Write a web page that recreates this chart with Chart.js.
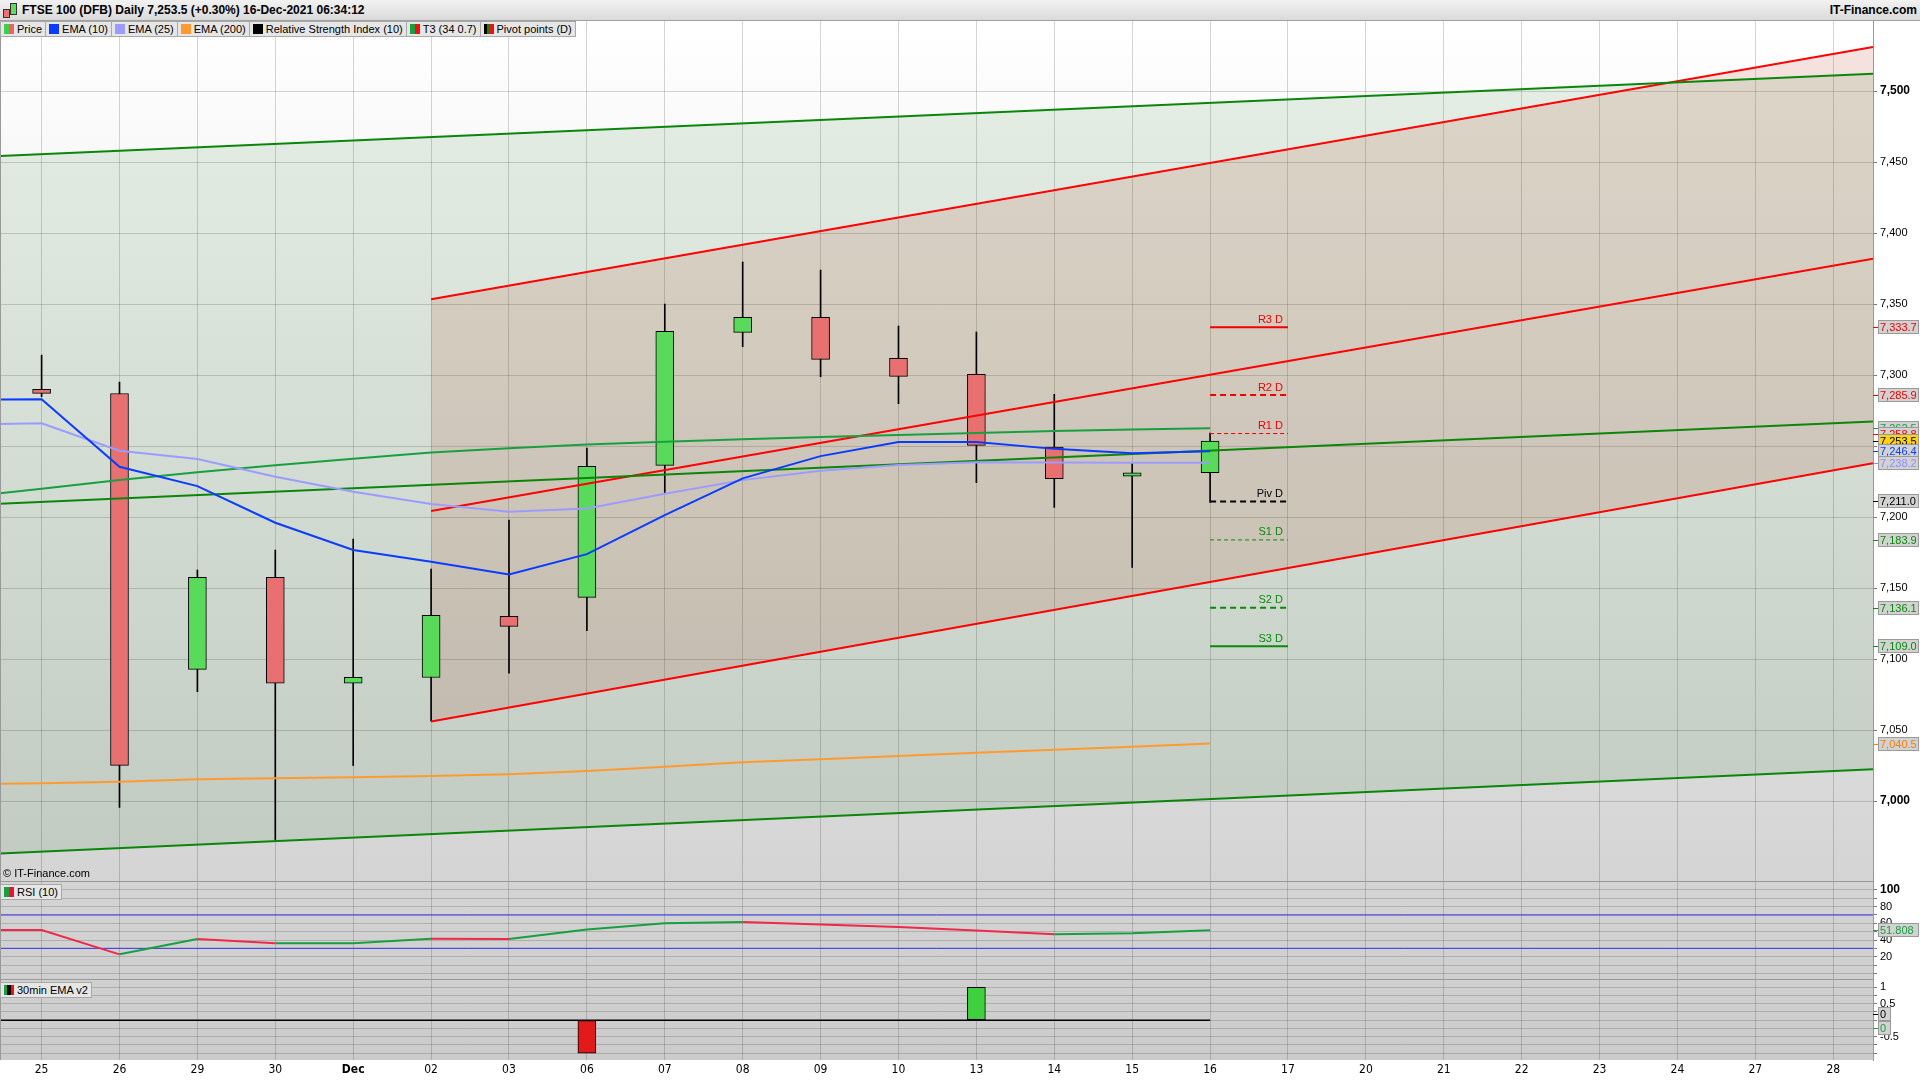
<!DOCTYPE html>
<html>
<head>
<meta charset="utf-8">
<script src="https://cdn.jsdelivr.net/npm/chart.js@4.4.1/dist/chart.umd.min.js"></script>
<style>
  body { margin: 0; width: 1920px; height: 1080px; overflow: hidden; background: #fff; position: relative;
         font-family: "Liberation Sans", Arial, sans-serif; }
  canvas { position: absolute; left: 0; }
  #head { position: absolute; left: 0; top: 0; width: 1920px; height: 20px; background: linear-gradient(#f2f2f2, #dadada);
          border-bottom: 1px solid #a0a0a0; font-size: 12px; font-weight: bold; line-height: 20px; }
  #head .title { position: absolute; left: 22px; top: 0; }
  #head .site { position: absolute; right: 3px; top: 0; }
  .ico { position: absolute; top: 5px; width: 5px; border: 1px solid #333; }
  #legend { position: absolute; left: 0; top: 21px; height: 16px; display: flex; font-size: 11px; }
  .item, .tag { display: flex; align-items: center; background: #e6e6e6; border: 1px solid #a8a8a8; border-left: none;
                padding: 0 3px 0 3px; height: 14px; white-space: nowrap; }
  .sw { display: inline-flex; width: 10px; height: 10px; margin-right: 3px; }
  .sw i { flex: 1; }
  .tag { position: absolute; left: 0; border-left: 1px solid #a8a8a8; font-size: 11px; height: 14px; }
  .hl { position: absolute; left: 0; width: 1873px; height: 1px; background: #999; }
  #copy { position: absolute; left: 3px; top: 867px; font-size: 11px; color: #000; }
</style>
</head>
<body>
<div id="head">
  <div class="ico" style="left:3px;height:7px;top:9px;background:#f07070"></div>
  <div class="ico" style="left:10px;height:10px;top:3px;background:#60dd60"></div>
  <span class="title">FTSE 100 (DFB) Daily 7,253.5 (+0.30%) 16-Dec-2021 06:34:12</span>
  <span class="site">IT-Finance.com</span>
</div>

<canvas id="main" width="1920" height="861" style="top:21px"></canvas>
<canvas id="rsi" width="1920" height="98" style="top:882px"></canvas>
<canvas id="ema" width="1920" height="100" style="top:980px"></canvas>

<div class="hl" style="top:881px"></div>
<div class="hl" style="top:979px"></div>
<div style="position:absolute;left:0;top:21px;width:1px;height:1039px;background:#999"></div>

<div id="legend">
  <div class="item" style="border-left:1px solid #a8a8a8"><span class="sw"><i style="background:#3fcf4f"></i><i style="background:#f06060"></i></span>Price</div>
  <div class="item"><span class="sw"><i style="background:#0a3cff"></i></span>EMA (10)</div>
  <div class="item"><span class="sw"><i style="background:#9c9cff"></i></span>EMA (25)</div>
  <div class="item"><span class="sw"><i style="background:#ff9a30"></i></span>EMA (200)</div>
  <div class="item"><span class="sw"><i style="background:#000"></i></span>Relative Strength Index (10)</div>
  <div class="item"><span class="sw"><i style="background:#18a040"></i><i style="background:#f01010"></i></span>T3 (34 0.7)</div>
  <div class="item"><span class="sw"><i style="background:#000"></i><i style="background:#0a8a0a"></i><i style="background:#f01010"></i></span>Pivot points (D)</div>
</div>
<div id="copy">© IT-Finance.com</div>
<div class="tag" style="top:884px"><span class="sw"><i style="background:#18a040"></i><i style="background:#f01030"></i></span>RSI (10)</div>
<div class="tag" style="top:982px"><span class="sw"><i style="background:#18a040"></i><i style="background:#000"></i><i style="background:#f01010"></i></span>30min EMA v2</div>

<script>
// x categories (trading days), index 0 = 25 Nov
const xLabels = ['25','26','29','30','Dec','02','03','06','07','08','09','10','13','14','15','16','17','20','21','22','23','24','27','28'];

// daily candles
const openP  = [7290.0, 7287.0, 7092.7, 7157.5, 7083.0, 7087.0, 7130.0, 7143.4, 7236.4, 7330.0, 7340.6, 7311.7, 7300.5, 7249.3, 7228.7, 7231.2];
const highP  = [7314.0, 7295.0, 7162.7, 7176.8, 7184.5, 7163.4, 7197.9, 7248.6, 7350.0, 7379.6, 7373.9, 7334.5, 7330.3, 7286.4, 7237.9, 7259.2];
const lowP   = [7284.7, 6995.6, 7077.0, 6972.5, 7025.0, 7056.3, 7090.0, 7120.0, 7217.0, 7320.0, 7298.8, 7279.8, 7224.2, 7206.8, 7164.5, 7210.3];
const closeP = [7287.1, 7025.1, 7157.5, 7083.0, 7087.1, 7130.8, 7123.0, 7235.7, 7330.8, 7340.6, 7311.0, 7299.0, 7250.5, 7227.0, 7231.2, 7253.5];

// indicators (value of previous day shown at the left edge)
const ema10  = [7282.9, 7235.4, 7221.8, 7196.0, 7176.8, 7168.5, 7159.6, 7173.9, 7201.4, 7227.2, 7242.9, 7252.8, 7252.8, 7248.0, 7245.0, 7246.4];
const ema25  = [7266.0, 7246.7, 7240.8, 7228.4, 7217.8, 7209.2, 7203.7, 7206.0, 7216.4, 7226.0, 7232.6, 7236.6, 7238.5, 7238.4, 7238.2, 7238.2];
const ema200 = [7012.6, 7013.6, 7015.3, 7016.0, 7016.7, 7017.6, 7018.8, 7021.1, 7024.2, 7027.3, 7029.5, 7031.7, 7034.0, 7036.2, 7038.3, 7040.5];
const t3     = [7220.0, 7226.0, 7231.5, 7236.5, 7241.0, 7245.5, 7248.5, 7251.0, 7253.0, 7254.8, 7256.4, 7257.8, 7259.2, 7260.5, 7261.6, 7262.5];
const prevVals = { ema10: 7282.5, ema25: 7265.0, ema200: 7011.8, t3: 7214.0, rsi: 52.0 };

// trend channels (start / end points)
const X_MIN = -0.534, X_MAX = 23.51;
const greenX = [X_MIN, X_MAX];
const greenUpper = [7454.3, 7512.1];
const greenMid   = [7209.3, 7267.2];
const greenLower = [6963.0, 7022.4];
const redX = [5, X_MAX];
const redUpper = [7353.4, 7531.0];
const redMid   = [7204.3, 7381.9];
const redLower = [7056.0, 7237.9];

// daily pivot points
const pivotNames  = ['R3 D', 'R2 D', 'R1 D', 'Piv D', 'S1 D', 'S2 D', 'S3 D'];
const pivotValues = [7333.7, 7285.9, 7258.8, 7211.0, 7183.9, 7136.1, 7109.0];

// lower panels
const rsi10 = [52.0, 22.8, 41.2, 36.0, 36.2, 41.4, 41.1, 52.7, 60.0, 61.6, 58.6, 55.6, 51.3, 46.8, 48.2, 51.8];
const rsiLevels = [70, 30];
const emaV2 = [0, 0, 0, 0, 0, 0, 0, -1, 0, 0, 0, 0, 1, 0, 0, 0];

// axis ticks
const priceTicks = [7000, 7050, 7100, 7150, 7200, 7250, 7300, 7350, 7400, 7450, 7500];
const rsiTicks = [0, 10, 20, 30, 40, 50, 60, 70, 80, 90, 100];
const emaTicks = [-1, -0.75, -0.5, -0.25, 0, 0.25, 0.5, 0.75, 1];

Chart.defaults.font.family = '"Liberation Sans", Arial, sans-serif';
Chart.defaults.font.size = 11;
Chart.defaults.color = '#000';
const NARROW = '"Liberation Sans Narrow", "Arial Narrow", "DejaVu Sans Condensed", sans-serif';
const GRID = 'rgba(0,0,0,0.16)';

const pts = (xs, ys) => ys.map((y, i) => ({ x: xs[i], y }));
const series = (prev, arr) => [{ x: -1, y: prev }].concat(arr.map((y, i) => ({ x: i, y })));
const line = (data, color, width, extra) => Object.assign({
  type: 'line', data, borderColor: color, borderWidth: width, pointRadius: 0, fill: false, tension: 0
}, extra || {});

function xScale(showLabels) {
  return {
    type: 'linear', min: X_MIN, max: X_MAX, offset: false,
    afterBuildTicks: s => { s.ticks = xLabels.map((_, i) => ({ value: i })); },
    afterFit: s => { s.height = showLabels ? 20 : 0; s.paddingLeft = 0; s.paddingRight = 0; },
    border: { display: false },
    grid: { color: GRID, drawTicks: false, offset: false },
    ticks: {
      display: showLabels, padding: 3, autoSkip: false, maxRotation: 0, color: '#000',
      callback: v => xLabels[v],
      font: c => ({ family: NARROW, size: 12, weight: c.tick && xLabels[c.tick.value] === 'Dec' ? 'bold' : 'normal' })
    }
  };
}
function yScale(min, max, ticks, label, boldAt) {
  return {
    position: 'right', min, max,
    afterBuildTicks: s => { s.ticks = ticks.map(v => ({ value: v })); },
    afterFit: s => { s.width = 47; s.paddingTop = 0; s.paddingBottom = 0; },
    border: { display: true, color: '#999' },
    grid: { color: GRID, tickLength: 4, tickColor: '#777' },
    ticks: {
      padding: 3, color: '#000', autoSkip: false,
      callback: label,
      font: c => (c.tick && boldAt(c.tick.value)) ? { size: 12, weight: 'bold' } : { size: 11, weight: 'normal' }
    }
  };
}

const bgPlugin = {
  id: 'panelBg',
  beforeDraw(chart, args, opts) {
    const { ctx, chartArea: a } = chart;
    ctx.save();
    const g = ctx.createLinearGradient(0, a.top, 0, a.bottom);
    g.addColorStop(0, opts.top);
    g.addColorStop(1, opts.bottom);
    ctx.fillStyle = g;
    ctx.fillRect(a.left, a.top, a.right - a.left, a.bottom - a.top);
    ctx.restore();
  }
};

const boxPlugin = {
  id: 'valueBoxes',
  afterDraw(chart, args, opts) {
    const { ctx } = chart;
    const y = chart.scales.y;
    const x0 = chart.chartArea.right;
    ctx.save();
    ctx.font = '11px "Liberation Sans", Arial, sans-serif';
    ctx.textBaseline = 'middle';
    (opts.items || []).forEach(it => {
      const py = Math.round(y.getPixelForValue(it.value) + (it.dy || 0));
      ctx.strokeStyle = it.color; ctx.lineWidth = 1;
      ctx.beginPath(); ctx.moveTo(x0, py + 0.5); ctx.lineTo(x0 + 5, py + 0.5); ctx.stroke();
      ctx.fillStyle = it.bg || '#d2d2d2';
      ctx.fillRect(x0 + 5.5, py - 6.5, it.w || 40, 13);
      ctx.strokeStyle = '#9a9a9a';
      ctx.strokeRect(x0 + 5.5, py - 6.5, it.w || 40, 13);
      ctx.fillStyle = it.text || it.color;
      ctx.fillText(it.label, x0 + 7, py + 0.5);
    });
    ctx.restore();
  }
};

const pivotColors = ['#f00000', '#f00000', '#f00000', '#000000', '#0a8a0a', '#0a8a0a', '#0a8a0a'];
const pivotWidths = [2, 2, 1, 2, 1, 2, 2];
const pivotDash   = [[], [6, 4], [4, 3], [6, 4], [4, 3], [6, 4], []];

const pivotLabelPlugin = {
  id: 'pivotLabels',
  afterDatasetsDraw(chart) {
    const { ctx, scales: { x, y } } = chart;
    ctx.save();
    ctx.font = '11px "Liberation Sans", Arial, sans-serif';
    ctx.textAlign = 'right';
    ctx.textBaseline = 'bottom';
    pivotNames.forEach((n, i) => {
      ctx.fillStyle = pivotColors[i];
      ctx.fillText(n, x.getPixelForValue(16) - 5, y.getPixelForValue(pivotValues[i]) - 2);
    });
    ctx.restore();
  }
};

// ---------- main price panel ----------
const ds = [];
ds.push(line(series(prevVals.ema10, ema10), '#0a3cff', 2));
ds.push(line(series(prevVals.ema25, ema25), '#9c9cff', 2));
ds.push(line(series(prevVals.t3, t3), '#18a040', 2));
ds.push(line(series(prevVals.ema200, ema200), '#ff9a30', 2));
pivotValues.forEach((v, i) => {
  ds.push(line([{ x: 15, y: v }, { x: 16, y: v }], pivotColors[i], pivotWidths[i], { borderDash: pivotDash[i] }));
});
const gLowerIdx = ds.length + 2;
ds.push(line(pts(greenX, greenUpper), '#0a860a', 2, { fill: { target: gLowerIdx }, backgroundColor: 'rgba(30,120,30,0.10)' }));
ds.push(line(pts(greenX, greenMid), '#0a860a', 2));
ds.push(line(pts(greenX, greenLower), '#0a860a', 2));
const rLowerIdx = ds.length + 2;
ds.push(line(pts(redX, redUpper), '#ff0000', 2, { fill: { target: rLowerIdx }, backgroundColor: 'rgba(190,25,0,0.12)' }));
ds.push(line(pts(redX, redMid), '#ff0000', 2));
ds.push(line(pts(redX, redLower), '#ff0000', 2));
ds.push({
  type: 'bar', grouped: false, barThickness: 18, borderWidth: 1, borderColor: '#000', borderSkipped: false,
  data: openP.map((o, i) => ({ x: i, y: [o, closeP[i]] })),
  backgroundColor: openP.map((o, i) => closeP[i] >= o ? '#5ada5a' : '#e87070')
});
ds.push({
  type: 'bar', grouped: false, barThickness: 1, borderWidth: 0, backgroundColor: '#000',
  data: lowP.map((l, i) => ({ x: i, y: [l, highP[i]] }))
});

const mainBoxes = [
  { value: 7333.7, label: '7,333.7', color: '#f00000' },
  { value: 7285.9, label: '7,285.9', color: '#f00000' },
  { value: 7262.5, label: '7,262.5', color: '#18a040' },
  { value: 7258.8, label: '7,258.8', color: '#f00000' },
  { value: 7253.5, label: '7,253.5', color: '#000', text: '#000', bg: '#ffd21a' },
  { value: 7246.4, label: '7,246.4', color: '#0a3cff' },
  { value: 7238.2, label: '7,238.2', color: '#8c8cff' },
  { value: 7211.0, label: '7,211.0', color: '#000' },
  { value: 7183.9, label: '7,183.9', color: '#0a8a0a' },
  { value: 7136.1, label: '7,136.1', color: '#0a8a0a' },
  { value: 7109.0, label: '7,109.0', color: '#0a8a0a' },
  { value: 7040.5, label: '7,040.5', color: '#f08010' }
];

new Chart(document.getElementById('main'), {
  type: 'line',
  data: { datasets: ds },
  options: {
    responsive: false, animation: false, devicePixelRatio: 1,
    layout: { padding: 0 },
    plugins: {
      legend: { display: false }, tooltip: { enabled: false },
      filler: { drawTime: 'beforeDatasetsDraw' },
      panelBg: { top: '#ffffff', bottom: '#d4d4d4' },
      valueBoxes: { items: mainBoxes }
    },
    scales: {
      x: xScale(false),
      y: yScale(6943, 7549.3, priceTicks, v => v.toLocaleString('en-US'), v => v % 500 === 0)
    }
  },
  plugins: [bgPlugin, boxPlugin, pivotLabelPlugin]
});

// ---------- RSI panel ----------
const RSI_UP = '#18a040', RSI_DN = '#f0284a';
new Chart(document.getElementById('rsi'), {
  type: 'line',
  data: {
    datasets: [
      line(series(prevVals.rsi, rsi10), RSI_UP, 2, {
        segment: { borderColor: c => c.p1.parsed.y <= c.p0.parsed.y ? RSI_DN : RSI_UP }
      }),
      ...rsiLevels.map(v => line([{ x: X_MIN, y: v }, { x: X_MAX, y: v }], '#3535e8', 1))
    ]
  },
  options: {
    responsive: false, animation: false, devicePixelRatio: 1,
    layout: { padding: 0 },
    plugins: {
      legend: { display: false }, tooltip: { enabled: false },
      panelBg: { top: '#d4d4d4', bottom: '#cfcfcf' },
      valueBoxes: { items: [{ value: rsi10[rsi10.length - 1], label: '51.808', color: '#18a040' }] }
    },
    scales: {
      x: xScale(false),
      y: yScale(-8, 109.6, rsiTicks, v => (v >= 20 && v % 20 === 0) ? String(v) : '', v => v === 100)
    }
  },
  plugins: [bgPlugin, boxPlugin]
});

// ---------- 30min EMA v2 panel ----------
const barGreen = emaV2.map((v, i) => ({ x: i, y: v })).filter(p => p.y > 0);
const barRed = emaV2.map((v, i) => ({ x: i, y: v })).filter(p => p.y < 0);
new Chart(document.getElementById('ema'), {
  type: 'line',
  data: {
    datasets: [
      line(series(0, emaV2.map(() => 0)), '#000', 1.5),
      { type: 'bar', grouped: false, barThickness: 18, borderWidth: 1, borderColor: '#000', borderSkipped: false,
        backgroundColor: '#3fcf3f', data: barGreen },
      { type: 'bar', grouped: false, barThickness: 18, borderWidth: 1, borderColor: '#000', borderSkipped: false,
        backgroundColor: '#e21a1a', data: barRed }
    ]
  },
  options: {
    responsive: false, animation: false, devicePixelRatio: 1,
    layout: { padding: 0 },
    plugins: {
      legend: { display: false }, tooltip: { enabled: false },
      panelBg: { top: '#d0d0d0', bottom: '#cbcbcb' },
      valueBoxes: { items: [
        { value: 0, dy: -6, label: '0', color: '#000', w: 12 },
        { value: 0, dy: 8, label: '0', color: '#18a040', w: 12 }
      ] }
    },
    scales: {
      x: xScale(true),
      y: yScale(-1.21, 1.22, emaTicks, v => (v === 1 || v === 0.5 || v === -0.5) ? String(v) : '', () => false)
    }
  },
  plugins: [bgPlugin, boxPlugin]
});
</script>
</body>
</html>
